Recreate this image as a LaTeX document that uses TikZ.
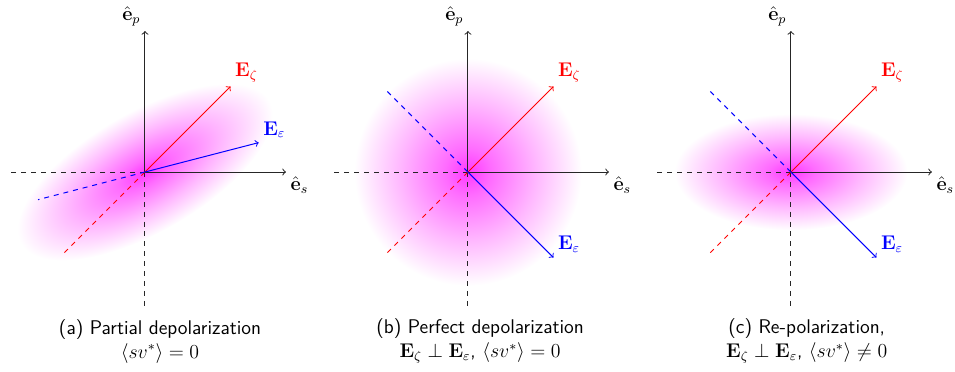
\documentclass[tikz,border=0pt,12pt]{standalone}
\usepackage{amsmath}
\usetikzlibrary{positioning}

\pgfdeclareradialshading{glow}{\pgfpoint{0bp}{0bp}}{color(0bp)=(magenta!78); color(5bp)=(magenta!58); color(15bp)=(magenta!28); color(25bp)=(white); color(50bp)=(white)}

\tikzset{
  axis/.style={->, semithick, black!85},
  negaxis/.style={dashed, semithick, black!85},
  vec/.style={->, semithick},
  negvec/.style={dashed, semithick},
  caption/.style={align=center, font=\sffamily},
}

\begin{document}
\begin{tikzpicture}
    \useasboundingbox (-3.085,-4.234) rectangle (17.235,3.66);
    % glows
    \shade[shading=glow, transform canvas={rotate=30}] (0,0) ellipse (3.05 and 1.28);
    \shade[shading=glow] (6.872,0) circle (2.42);
    \shade[shading=glow] (13.744,0) ellipse (2.48 and 1.24);
    % axes and E_zeta in every panel
    \foreach \p/\x in {a/0,b/6.872,c/13.744}{
        \coordinate (O\p) at (\x,0);
        \coordinate (S\p) at (\x+3,0);
        \coordinate (P\p) at (\x,3);
        \coordinate (Sm\p) at (\x-2.9,0);
        \coordinate (Pm\p) at (\x,-2.85);
        \draw[axis] (O\p) -- (S\p);
        \draw[axis] (O\p) -- (P\p);
        \draw[negaxis] (O\p) -- (Sm\p);
        \draw[negaxis] (O\p) -- (Pm\p);
        \node[below right=-2pt] (ls\p) at (S\p) {$\hat{\mathbf{e}}_s$};
        \node[above left=-2pt] (lp\p) at (P\p) {$\hat{\mathbf{e}}_p$};
        \coordinate (Z\p) at (\x+1.82,1.82);
        \coordinate (Zm\p) at (\x-1.77,-1.77);
        \draw[vec, red] (O\p) -- (Z\p);
        \draw[negvec, red] (O\p) -- (Zm\p);
        \node[above right=-2pt, red] (lz\p) at (Z\p) {$\mathbf{E}_\zeta$};
    }
    % E_epsilon
    \coordinate (Ea) at (14.5:2.5);
    \coordinate (Ema) at (194.5:2.35);
    \foreach \p/\x in {b/6.872,c/13.744}{
        \coordinate (E\p) at (\x+1.82,-1.82);
        \coordinate (Em\p) at (\x-1.77,1.77);
    }
    \foreach \p in {a,b,c}{
        \draw[vec, blue] (O\p) -- (E\p);
        \draw[negvec, blue] (O\p) -- (Em\p);
        \node[above right=-2pt, blue] (le\p) at (E\p) {$\mathbf{E}_\varepsilon$};
    }
    % captions
    \node[caption] (ca) at (0.32,-3.6) {(a) Partial depolarization\\ $\langle sv^*\rangle = 0$};
    \node[caption] (cb) at (7.13,-3.6) {(b) Perfect depolarization\\ $\mathbf{E}_\zeta \perp \mathbf{E}_\varepsilon$, $\langle sv^*\rangle = 0$};
    \node[caption] (cc) at (14.08,-3.6) {(c) Re-polarization,\\ $\mathbf{E}_\zeta \perp \mathbf{E}_\varepsilon$, $\langle sv^*\rangle \neq 0$};
\end{tikzpicture}
\end{document}
